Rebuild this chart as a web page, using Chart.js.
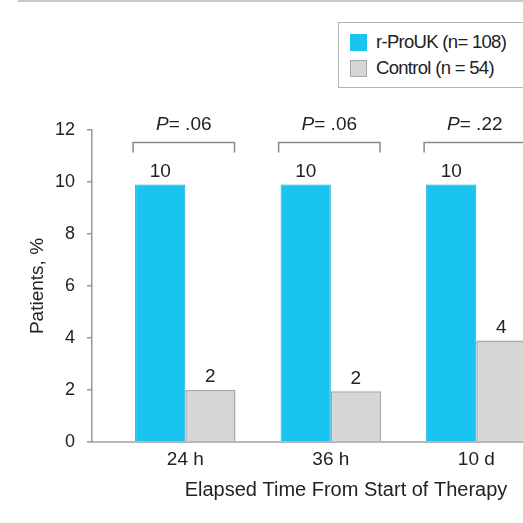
<!DOCTYPE html>
<html>
<head>
<meta charset="utf-8">
<script src="https://cdn.jsdelivr.net/npm/chart.js@4/dist/chart.umd.min.js"></script>
<style>
  html, body { margin: 0; padding: 0; background: #fff; overflow: hidden; }
  #wrap { position: relative; width: 600px; height: 523px; }
  #topRule { position: absolute; left: 18px; top: 0; width: 600px; height: 2px; background: #c8c8c8; }
  #legend {
    position: absolute; left: 338px; top: 22px; width: 240px; height: 64px;
    border: 1.5px solid #b4b4b4; background: #fff;
    font-family: "Liberation Sans", Arial, sans-serif; font-size: 18.5px; color: #222;
    letter-spacing: -0.7px;
  }
  .legend-item { position: absolute; left: 11px; height: 20px; line-height: 20px; white-space: nowrap; }
  .legend-item span.sw { display: inline-block; width: 17px; height: 17px; vertical-align: -3px; margin-right: 9px; box-sizing: border-box; }
</style>
</head>
<body>
<div id="wrap">
  <div id="topRule"></div>
  <canvas id="chart" width="600" height="523"></canvas>
  <div id="legend"></div>
</div>
<script>
// --- data ---
const categories = ['24 h', '36 h', '10 d'];
const proukValues = [9.9, 9.9, 9.9];
const controlValues = [2.0, 1.95, 3.9];
const pValues = ['.06', '.06', '.22'];
const seriesNames = ['r-ProUK (n= 108)', 'Control (n = 54)'];
const yTickMax = 12;
const yTickStep = 2;

const FONT = '"Liberation Sans", Arial, sans-serif';
const TEXT = '#222';

function toPoints(values) {
  return values.map((v, i) => ({ x: i, y: v }));
}

// P-value brackets above each pair of bars
const bracketPlugin = {
  id: 'brackets',
  afterDatasetsDraw(chart) {
    const ctx = chart.ctx;
    const y = chart.scales.y;
    const m0 = chart.getDatasetMeta(0);
    const m1 = chart.getDatasetMeta(1);
    ctx.save();
    categories.forEach((c, i) => {
      const b0 = m0.data[i], b1 = m1.data[i];
      const left = b0.x - b0.width / 2 - 2;
      const right = b1.x + b1.width / 2 - 1;
      const by = y.getPixelForValue(11.52);
      ctx.strokeStyle = '#8a8a8a';
      ctx.lineWidth = 1.5;
      ctx.beginPath();
      ctx.moveTo(left, by + 10);
      ctx.lineTo(left, by);
      ctx.lineTo(right, by);
      ctx.lineTo(right, by + 10);
      ctx.stroke();

      // "P" in italics, then the rest
      const ty = y.getPixelForValue(12.2);
      const cx = (left + right) / 2;
      ctx.fillStyle = TEXT;
      ctx.textBaseline = 'middle';
      ctx.textAlign = 'left';
      const pFont = 'italic 19px ' + FONT;
      const rFont = '19px ' + FONT;
      const rest = '= ' + pValues[i];
      ctx.font = pFont;
      const wP = ctx.measureText('P').width;
      ctx.font = rFont;
      const wR = ctx.measureText(rest).width;
      let x0 = cx - (wP + wR) / 2;
      ctx.font = pFont;
      ctx.fillText('P', x0, ty);
      ctx.font = rFont;
      ctx.fillText(rest, x0 + wP, ty);
    });
    ctx.restore();
  }
};

// rounded value above each bar
const valueLabelPlugin = {
  id: 'valueLabels',
  afterDatasetsDraw(chart) {
    const ctx = chart.ctx;
    ctx.save();
    ctx.font = '19px ' + FONT;
    ctx.fillStyle = TEXT;
    ctx.textAlign = 'center';
    ctx.textBaseline = 'middle';
    chart.data.datasets.forEach((ds, di) => {
      chart.getDatasetMeta(di).data.forEach((bar, i) => {
        ctx.fillText(String(Math.round(ds.data[i].y)), bar.x, bar.y - 13);
      });
    });
    ctx.restore();
  }
};

const plotLeft = 92;
const unitPx = 145.5;
const firstCenter = 185.3;
const xMin = -(firstCenter - plotLeft) / unitPx;
const xMax = xMin + (600 - plotLeft) / unitPx;

const chart = new Chart(document.getElementById('chart'), {
  type: 'bar',
  data: {
    datasets: [
      {
        label: seriesNames[0],
        data: toPoints(proukValues),
        backgroundColor: '#1ac4f1',
        borderColor: '#15a9d2',
        borderWidth: 1
      },
      {
        label: seriesNames[1],
        data: toPoints(controlValues),
        backgroundColor: '#d6d6d6',
        borderColor: '#a6a6a6',
        borderWidth: 1.5
      }
    ]
  },
  options: {
    responsive: false,
    animation: false,
    events: [],
    layout: { padding: { top: 130, left: 0, right: 0, bottom: 0 } },
    datasets: { bar: { categoryPercentage: 0.69, barPercentage: 1 } },
    plugins: { legend: { display: false }, tooltip: { enabled: false } },
    scales: {
      x: {
        type: 'linear',
        offset: false,
        min: xMin,
        max: xMax,
        afterFit(scale) { scale.height = 81; },
        grid: { display: false, drawTicks: false, offset: false },
        border: { display: true, color: '#b8b8b8', width: 2 },
        ticks: {
          stepSize: 1,
          includeBounds: false,
          padding: 6,
          color: TEXT,
          font: { family: FONT, size: 19 },
          callback: v => categories[v] ?? ''
        },
        title: {
          display: true,
          text: 'Elapsed Time From Start of Therapy',
          color: TEXT,
          font: { family: FONT, size: 20 },
          padding: { top: 0, bottom: 21 }
        }
      },
      y: {
        min: 0,
        max: yTickMax,
        afterFit(scale) { scale.width = plotLeft; },
        grid: { drawOnChartArea: false, drawTicks: true, tickLength: 5, color: '#999', lineWidth: 1.5 },
        border: { display: true, color: '#999', width: 1.5 },
        ticks: {
          stepSize: yTickStep,
          padding: 12,
          color: TEXT,
          font: { family: FONT, size: 18 }
        },
        title: {
          display: true,
          text: 'Patients, %',
          color: TEXT,
          font: { family: FONT, size: 19 },
          padding: { top: 26, bottom: 0 }
        }
      }
    }
  },
  plugins: [bracketPlugin, valueLabelPlugin]
});

// HTML legend built from the datasets
const legendEl = document.getElementById('legend');
legendEl.innerHTML = chart.data.datasets.map((ds, i) =>
  `<div class="legend-item" style="top:${9 + i * 26}px">` +
  `<span class="sw" style="background:${ds.backgroundColor};border:1.5px solid ${i ? '#a6a6a6' : '#1ac4f1'}"></span>${ds.label}</div>`
).join('');
</script>
</body>
</html>
